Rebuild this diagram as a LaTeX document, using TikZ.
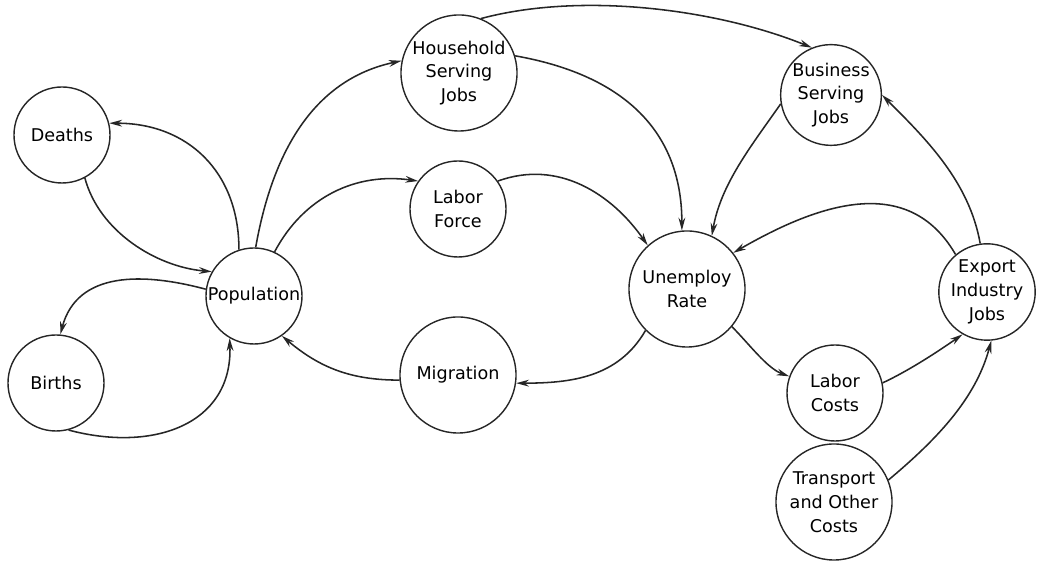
\documentclass[tikz,border=0pt]{standalone}
\usepackage{fontspec}
\setmainfont{DejaVu Sans}
\usetikzlibrary{arrows.meta}

\begin{document}
\begin{tikzpicture}[
                x=0.025cm, y=0.025cm,
                bignode/.style={circle, draw=black!85, line width=1pt, inner sep=0pt, minimum size=2.9cm, align=center, font=\fontsize{12.5}{17}\selectfont},
                smallnode/.style={circle, draw=black!85, line width=1pt, inner sep=0pt, minimum size=2.4cm, align=center, font=\fontsize{12.5}{17}\selectfont},
                link/.style={draw=black!85, line width=1.1pt, -{Stealth[length=3.2mm, width=1.7mm]}},
            ]
            \useasboundingbox (0,0) rectangle (1040,563);

            \node[smallnode] (deaths)     at (62,428)  {Deaths};
            \node[smallnode] (births)     at (56,180)  {Births};
            \node[smallnode] (population) at (254,267) {Population};
            \node[bignode]   (household)  at (459,490) {Household\\Serving\\Jobs};
            \node[smallnode] (laborforce) at (458,354) {Labor\\Force};
            \node[bignode]   (migration)  at (458,188) {Migration};
            \node[bignode]   (unemploy)   at (687,274) {Unemploy\\Rate};
            \node[smallnode] (business)   at (831,468) {Business\\Serving\\Jobs};
            \node[smallnode] (export)     at (987,271) {Export\\Industry\\Jobs};
            \node[smallnode] (laborcosts) at (835,170) {Labor\\Costs};
            \node[bignode]   (transport)  at (834,61)  {Transport\\and Other\\Costs};

            \draw[link] (population.108) to[out=90, in=0, looseness=1.1] (deaths.14);
            \draw[link] (deaths.-62) to[out=-75, in=175, looseness=0.9] (population.150);
            \draw[link] (population.172) to[out=165, in=75, looseness=1.1] (births.85);
            \draw[link] (births.-75) to[out=-15, in=-88, looseness=1.2] (population.-120);
            \draw[link] (population.88) to[out=80, in=192, looseness=1.0] (household.168);
            \draw[link] (population.65) to[out=62, in=172, looseness=1.0] (laborforce.145);
            \draw[link] (household.68) to[out=15, in=158, looseness=0.8] (business.112);
            \draw[link] (household.17) to[out=-10, in=90, looseness=1.1] (unemploy.95);
            \draw[link] (laborforce.35) to[out=20, in=125, looseness=1.0] (unemploy.132);
            \draw[link] (business.190) to[out=235, in=80, looseness=0.9] (unemploy.65);
            \draw[link] (export.130) to[out=120, in=30, looseness=1.1] (unemploy.38);
            \draw[link] (export.98) to[out=100, in=-45, looseness=0.9] (business.0);
            \draw[link] (unemploy.-135) to[out=-120, in=0, looseness=1.0] (migration.-8);
            \draw[link] (migration.185) to[out=180, in=-40, looseness=1.0] (population.-55);
            \draw[link] (unemploy.-40) to[out=-45, in=160, looseness=0.8] (laborcosts.160);
            \draw[link] (laborcosts.12) to[out=25, in=-145, looseness=0.8] (export.-120);
            \draw[link] (transport.22) to[out=40, in=-105, looseness=0.9] (export.-85);
        \end{tikzpicture}
\end{document}
